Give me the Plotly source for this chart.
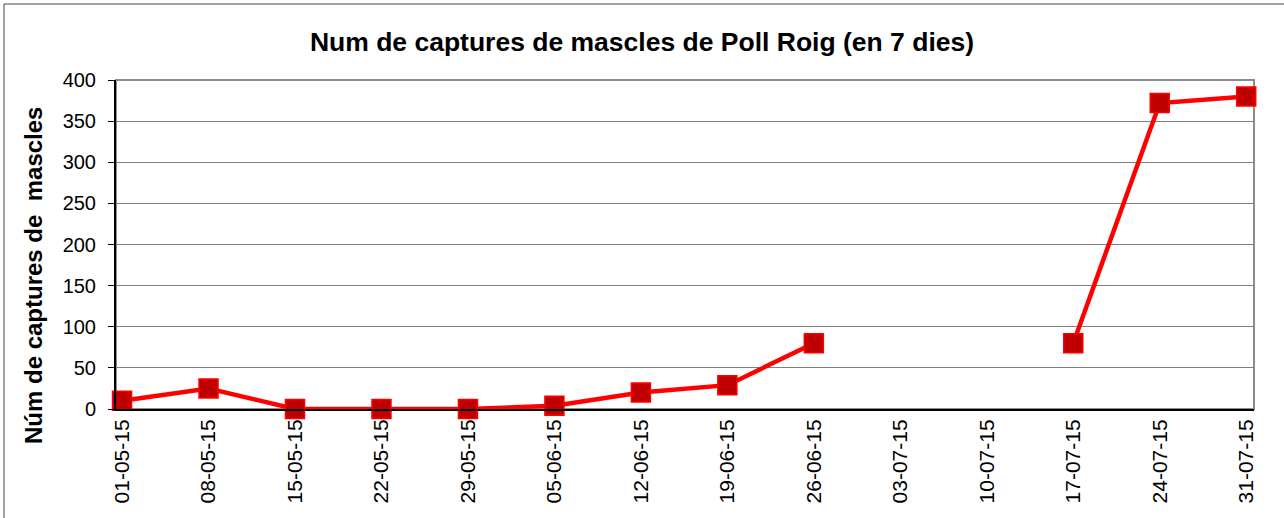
import plotly.graph_objects as go

# Captures setmanals
dates = ['01-05-15', '08-05-15', '15-05-15', '22-05-15', '29-05-15', '05-06-15',
         '12-06-15', '19-06-15', '26-06-15', '03-07-15', '10-07-15', '17-07-15',
         '24-07-15', '31-07-15']
captures = [10, 25, 0, 0, 0, 4, 20, 29, 80, None, None, 80, 372, 380]

fig = go.Figure()

fig.add_trace(go.Scatter(
    x=list(range(len(dates))),
    y=captures,
    mode='lines+markers',
    line=dict(color='#FF0000', width=4.5),
    marker=dict(symbol='square', size=19, color='#C00000',
                line=dict(color='#FF0000', width=1.5)),
    connectgaps=False,
    cliponaxis=False,
    showlegend=False
))

# marc del grafic i de l'area de dibuix
fig.add_shape(type='rect', xref='paper', yref='paper',
              x0=-0.0984, x1=1.04, y0=-0.36, y1=1.231,
              line=dict(color='#444444', width=1), layer='below')
fig.add_shape(type='rect', xref='paper', yref='paper',
              x0=0, x1=1, y0=0, y1=1,
              line=dict(color='#8c8c8c', width=2), layer='below')

fig.add_annotation(
    text='<b>Núm de captures de  mascles</b>',
    xref='paper', yref='paper', x=-0.073, y=0.407,
    xanchor='center', yanchor='middle',
    textangle=-90, showarrow=False,
    font=dict(family='Liberation Sans, Arial', size=24, color='black')
)

fig.update_layout(
    title=dict(text='<b>Num de captures de mascles de Poll Roig (en 7 dies)</b>',
               x=0.5, xanchor='center', y=0.919, yanchor='middle',
               font=dict(family='Liberation Sans, Arial', size=26.5, color='black')),
    width=1284, height=518,
    margin=dict(l=116, r=30, t=80, b=109),
    plot_bgcolor='white',
    paper_bgcolor='white',
    font=dict(family='Liberation Sans, Arial', size=20, color='black'),
    xaxis=dict(
        tickmode='array',
        tickvals=list(range(len(dates))),
        ticktext=dates,
        tickangle=-90,
        range=[-0.07, 13.09],
        showgrid=False,
        zeroline=False,
        showline=True, linecolor='black', linewidth=2,
        ticks='',
        tickfont=dict(size=21),
    ),
    yaxis=dict(
        range=[0, 400],
        dtick=50,
        showgrid=True, gridcolor='#7f7f7f', gridwidth=1,
        zeroline=False,
        showline=True, linecolor='black', linewidth=2,
        ticks='outside', ticklen=6, tickcolor='black',
        ticklabelstandoff=8,
        tickfont=dict(size=20),
    ),
)

fig.write_html("out.html", config={'displayModeBar': False},
               post_script="document.body.style.margin='0';")
